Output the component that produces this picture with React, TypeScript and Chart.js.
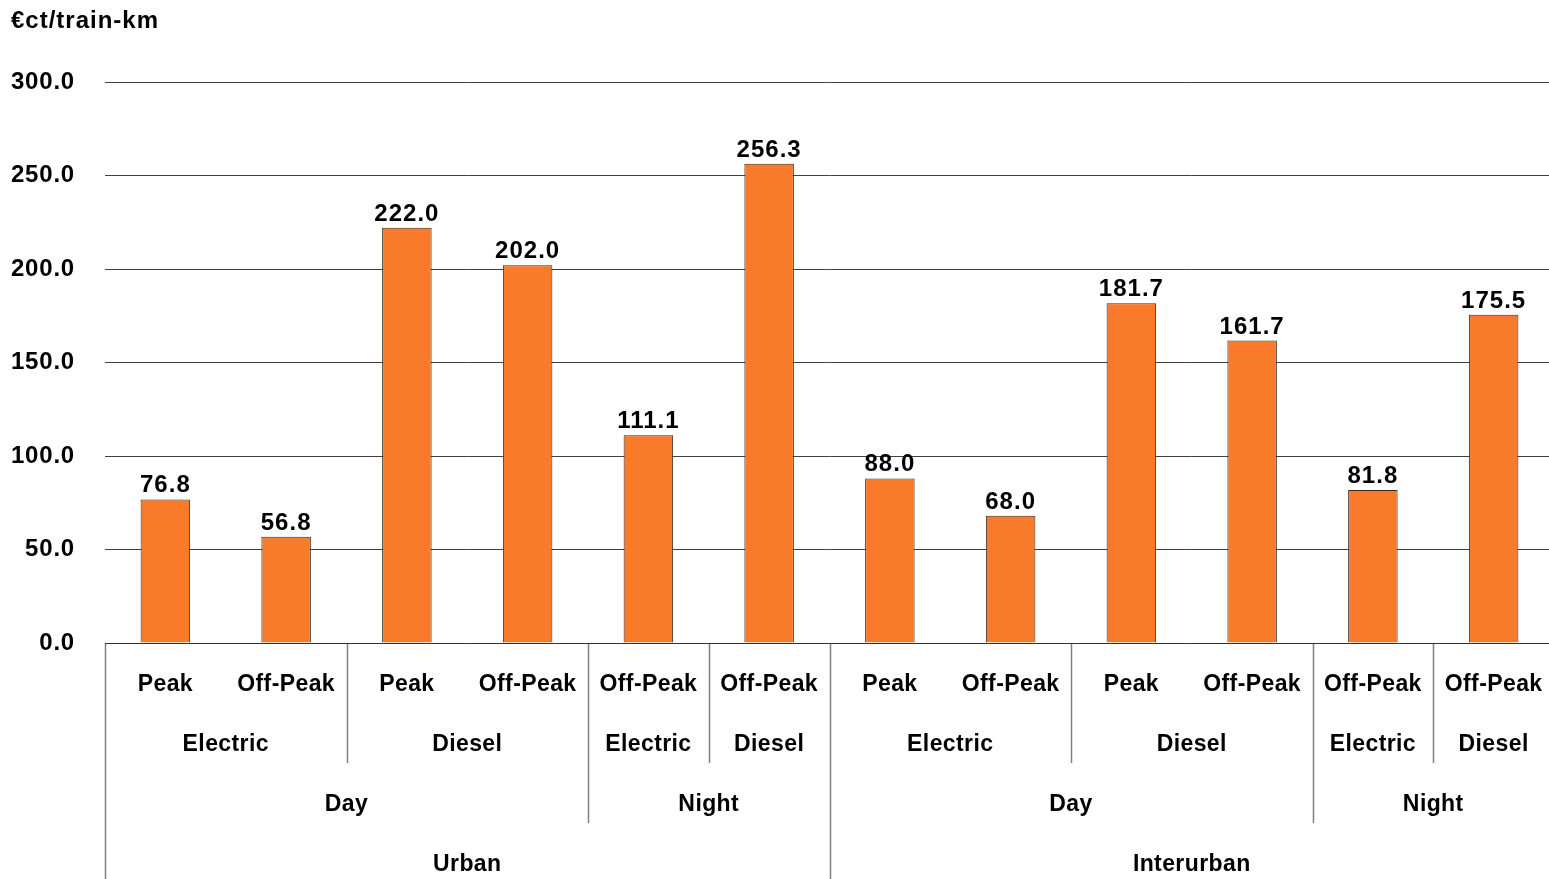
import React, { useEffect, useRef } from "react";
import { Chart, registerables } from "chart.js";

Chart.register(...registerables);

const yTitle = "€ct/train-km";
const periods = ["Peak", "Off-Peak", "Peak", "Off-Peak", "Off-Peak", "Off-Peak", "Peak", "Off-Peak", "Peak", "Off-Peak", "Off-Peak", "Off-Peak"];
const traction = ["Electric", "Electric", "Diesel", "Diesel", "Electric", "Diesel", "Electric", "Electric", "Diesel", "Diesel", "Electric", "Diesel"];
const timeOfDay = ["Day", "Day", "Day", "Day", "Night", "Night", "Day", "Day", "Day", "Day", "Night", "Night"];
const area = ["Urban", "Urban", "Urban", "Urban", "Urban", "Urban", "Interurban", "Interurban", "Interurban", "Interurban", "Interurban", "Interurban"];
const costs = [76.8, 56.8, 222.0, 202.0, 111.1, 256.3, 88.0, 68.0, 181.7, 161.7, 81.8, 175.5];
const yTicks = [0, 50, 100, 150, 200, 250, 300];

const FONT = "'Liberation Sans', Arial, sans-serif";

const levels = [periods, traction, timeOfDay, area];

const spacingPlugin = {
  id: "spacing",
  beforeDraw(chart: any) {
    (chart.ctx as any).letterSpacing = "0.8px";
  },
};

const multiLevelPlugin = {
  id: "multiLevel",
  afterDraw(chart: any) {
    const ctx = chart.ctx;
    const xs = chart.scales.x;
    const ys = chart.scales.y;
    const area0 = chart.chartArea;
    const n = periods.length;
    const step = xs.getPixelForValue(1) - xs.getPixelForValue(0);
    const top = area0.bottom;
    const rowH = 60;
    ctx.save();
    // data labels
    ctx.letterSpacing = "1px";
    ctx.fillStyle = "#000";
    ctx.font = `bold 24px ${FONT}`;
    ctx.textAlign = "center";
    ctx.textBaseline = "alphabetic";
    const meta = chart.getDatasetMeta(0);
    meta.data.forEach((bar: any, i: number) => {
      ctx.fillText(costs[i].toFixed(1), bar.x, bar.y - 7);
    });
    // title
    ctx.textAlign = "left";
    ctx.textBaseline = "middle";
    ctx.fillText(yTitle, 11, 21);

    // group labels
    ctx.letterSpacing = "0.4px";
    ctx.font = `bold 23px ${FONT}`;
    ctx.textAlign = "center";
    ctx.textBaseline = "middle";
    levels.forEach((lv, li) => {
      let start = 0;
      for (let i = 1; i <= n; i++) {
        let boundary = i === n;
        if (!boundary) {
          for (let k = li; k < levels.length; k++) {
            if (levels[k][i] !== levels[k][i - 1]) { boundary = true; break; }
          }
          if (li === 0) boundary = true;
        }
        if (boundary) {
          const cx = (xs.getPixelForValue(start) + xs.getPixelForValue(i - 1)) / 2;
          ctx.fillStyle = "#000";
          ctx.fillText(lv[start], cx, top + 42 + rowH * li);
          start = i;
        }
      }
    });
    // separators
    ctx.strokeStyle = "#7f7f7f";
    ctx.lineWidth = 1.5;
    for (let i = 1; i < n; i++) {
      let depth = 0;
      for (let k = levels.length - 1; k >= 1; k--) {
        if (levels[k][i] !== levels[k][i - 1]) { depth = k + 1; break; }
      }
      if (depth > 0) {
        const x = Math.round(xs.getPixelForValue(i) - step / 2) + 0.5;
        ctx.beginPath();
        ctx.moveTo(x, top);
        ctx.lineTo(x, top + rowH * depth);
        ctx.stroke();
      }
    }
    // left border
    const lx = Math.round(area0.left) + 0.5;
    ctx.beginPath();
    ctx.moveTo(lx, top);
    ctx.lineTo(lx, chart.height);
    ctx.stroke();
    // x axis line
    ctx.strokeStyle = "#333";
    ctx.lineWidth = 1;
    const by = Math.round(ys.getPixelForValue(0)) + 0.5;
    ctx.beginPath();
    ctx.moveTo(area0.left, by);
    ctx.lineTo(area0.right, by);
    ctx.stroke();
    ctx.restore();
  },
};

export default function App() {
  const ref = useRef<HTMLCanvasElement>(null);
  useEffect(() => {
    document.body.style.margin = "0";
    document.body.style.overflow = "hidden";
    const chart = new Chart(ref.current as HTMLCanvasElement, {
      type: "bar",
      data: {
        labels: periods,
        datasets: [
          {
            data: costs,
            backgroundColor: "#F97A2A",
            borderColor: "#3b2a1e",
            borderWidth: 1,
            barPercentage: 0.41,
            categoryPercentage: 1,
          },
        ],
      },
      options: {
        animation: false,
        responsive: false,
        maintainAspectRatio: false,
        layout: { padding: { top: 82, bottom: 236, left: 0, right: 0 } },
        plugins: { legend: { display: false }, tooltip: { enabled: false }, title: { display: false } },
        scales: {
          x: {
            ticks: { display: false },
            grid: { display: false, drawTicks: false },
            border: { display: false },
          },
          y: {
            min: 0,
            max: 300,
            afterFit(scale: any) { scale.width = 105; },
            afterBuildTicks(scale: any) { scale.ticks = yTicks.map((v) => ({ value: v })); },
            ticks: {
              padding: 30,
              color: "#000",
              font: { family: FONT, size: 24, weight: "bold" },
              callback: (v: any) => Number(v).toFixed(1),
            },
            grid: { color: "#404040", lineWidth: 1, drawTicks: false },
            border: { display: false },
          },
        },
      },
      plugins: [spacingPlugin, multiLevelPlugin],
    });
    return () => chart.destroy();
  }, []);
  return (
    <div style={{ width: 1549, height: 879, overflow: "hidden" }}>
      <canvas ref={ref} width={1554} height={879} style={{ display: "block" }} />
    </div>
  );
}
